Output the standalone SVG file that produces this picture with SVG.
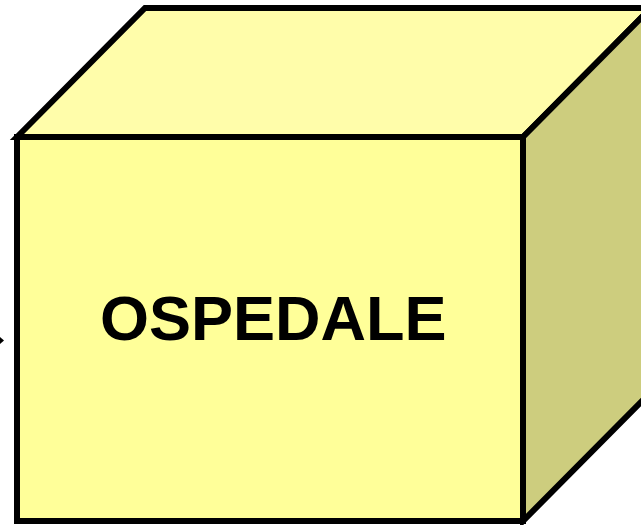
<svg xmlns="http://www.w3.org/2000/svg" width="641" height="525" viewBox="0 0 641 525">
<style>
.e{stroke:#000;stroke-width:6;stroke-linejoin:miter}
.lbl{font-family:"Liberation Sans",Arial,sans-serif;font-weight:bold;font-size:63px;fill:#000}
</style>
<rect width="641" height="525" fill="#fff"/>
<g id="connectors">
<polygon points="0,337 4,340.5 0,344" fill="#000"/>
</g>
<g id="ospedale">
<polygon class="e" points="17,137 145,8 651,8 523,137" fill="#FFFDAA"/>
<polygon class="e" points="523,137 651,8 651,392 523,521" fill="#CDCD7E"/>
<rect class="e" x="17" y="137" width="506" height="384" fill="#FFFF99"/>
<text class="lbl" x="100" y="340">OSPEDALE</text>
</g>
</svg>
